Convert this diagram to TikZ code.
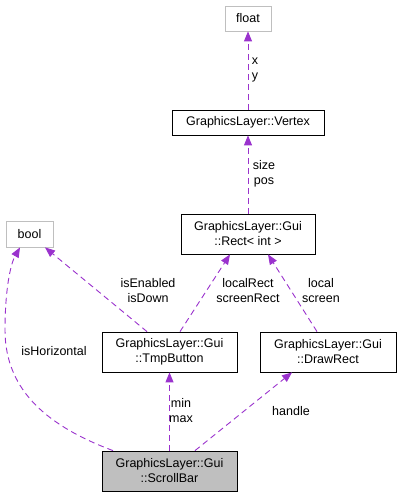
\documentclass[tikz,border=0pt]{standalone}
\usepackage{fontspec}
\setmainfont{Liberation Sans}
\usetikzlibrary{arrows.meta,calc}
\definecolor{edgec}{HTML}{9A32CD}
\definecolor{greyb}{HTML}{BFBFBF}
\tikzset{
  cls/.style={draw=black, line width=0.8pt, fill=white, align=center, inner sep=0pt, font=\fontsize{12.5}{15}\selectfont},
  ext/.style={cls, draw=greyb},
  main/.style={cls, fill=greyb},
  edge/.style={draw=edgec, line width=0.9pt, dash pattern=on 6pt off 4pt, -{Triangle[length=10pt,width=8pt,fill=edgec]}},
  lbl/.style={align=center, inner sep=0pt, font=\fontsize{12.5}{15}\selectfont}
}
\begin{document}
\begin{tikzpicture}[x=1pt,y=-1pt]
\useasboundingbox (0,0) rectangle (401,497);
\node[ext, minimum width=46pt, minimum height=25pt] (float) at (248,18.5) {float};
\node[cls, minimum width=152pt, minimum height=25pt] (vertex) at (248,122.5) {GraphicsLayer::Vertex};
\node[cls, minimum width=134pt, minimum height=40pt] (rect) at (248,234) {GraphicsLayer::Gui\\::Rect< int >};
\node[ext, minimum width=47pt, minimum height=26pt] (bool) at (29.5,234) {bool};
\node[cls, minimum width=135pt, minimum height=40pt] (tmp) at (169.5,352) {GraphicsLayer::Gui\\::TmpButton};
\node[cls, minimum width=136pt, minimum height=40pt] (draw) at (328,352) {GraphicsLayer::Gui\\::DrawRect};
\node[main, minimum width=135pt, minimum height=40pt] (scroll) at (169.5,471) {GraphicsLayer::Gui\\::ScrollBar};
\coordinate (hzmid) at (5,330);

\draw[edge] (vertex.north) -- (float.south);
\draw[edge] (rect.north) -- (vertex.south);
\draw[edge] ([xshift=-56.5pt]scroll.north) .. controls (50,427) and (5,392) .. (hzmid) .. controls (5,292) and (10,265) .. ([xshift=-9.5pt]bool.south);
\draw[edge] ([xshift=-22.5pt]tmp.north) -- ([xshift=15.5pt]bool.south);
\draw[edge] ([xshift=10.5pt]tmp.north) -- ([xshift=-18pt]rect.south);
\draw[edge] ([xshift=-11pt]draw.north) -- ([xshift=20pt]rect.south);
\draw[edge] (scroll.north) -- (tmp.south);
\draw[edge] ([xshift=25.5pt]scroll.north) -- ([xshift=-36pt]draw.south);

\node[lbl] (lxy) at (255,70) {x\\y};
\node[lbl] (lsp) at (264,174) {size\\pos};
\node[lbl] (len) at (148,291) {isEnabled\\isDown};
\node[lbl] (llr) at (248,291) {localRect\\screenRect};
\node[lbl] (lls) at (321,291) {local\\screen};
\node[lbl] (lhz) at (54,351) {isHorizontal};
\node[lbl] (lmm) at (181,411) {min\\max};
\node[lbl] (lhd) at (291,411) {handle};
\end{tikzpicture}
\end{document}
